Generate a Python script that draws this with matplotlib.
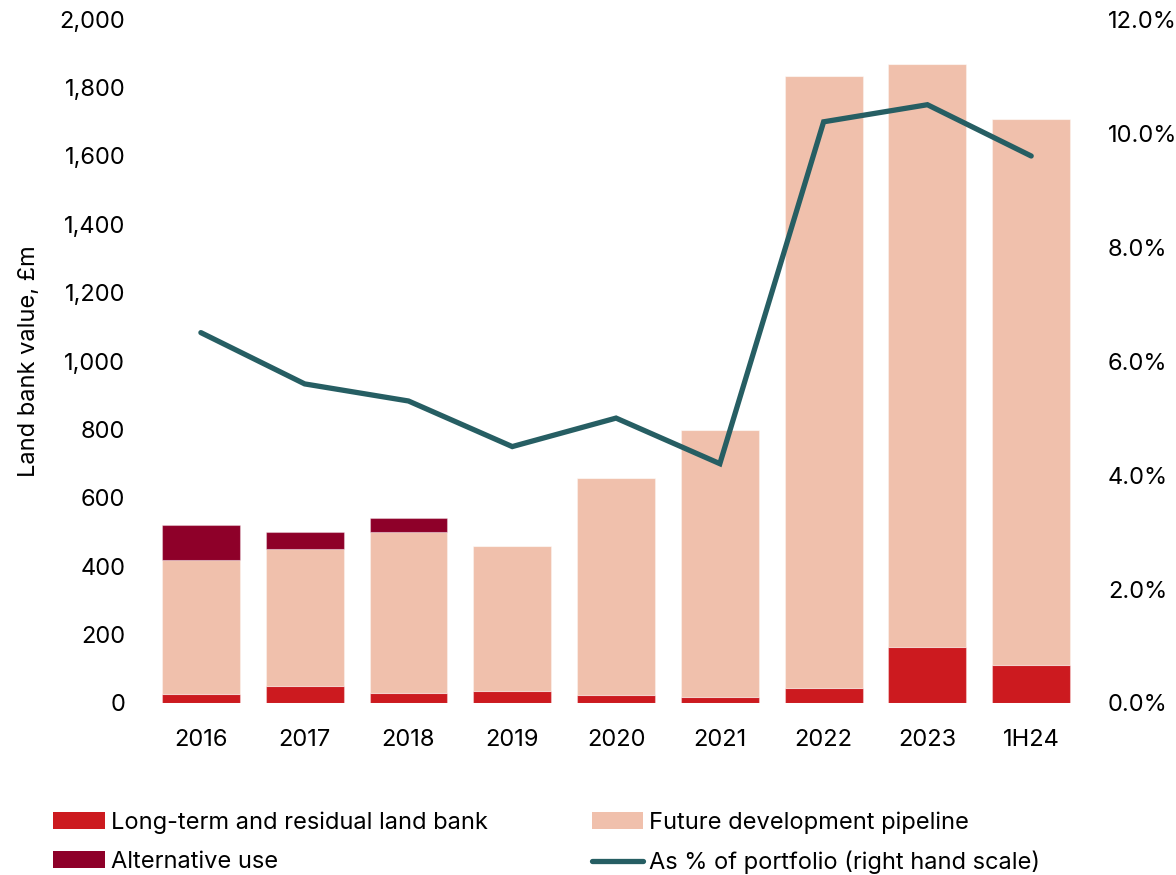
import matplotlib
matplotlib.use("Agg")
import matplotlib.pyplot as plt
from matplotlib.ticker import FuncFormatter, MultipleLocator
from matplotlib.lines import Line2D
from matplotlib.patches import Patch

# Land bank composition, £m
periods = ["2016", "2017", "2018", "2019", "2020", "2021", "2022", "2023", "1H24"]
long_term_residual = [26, 50, 29, 36, 23, 18, 44, 165, 111]
future_pipeline = [392, 401, 470, 424, 635, 780, 1789, 1703, 1597]
alternative_use = [102, 48, 43, 0, 0, 0, 0, 0, 0]
# Land bank as share of portfolio, %
pct_of_portfolio = [6.5, 5.6, 5.3, 4.5, 5.0, 4.2, 10.2, 10.5, 9.6]

c_red = "#CC1A1F"
c_pipe = "#F0C0AC"
c_alt = "#8E0029"
c_line = "#265E63"

plt.rcParams["font.family"] = ["Inter", "DejaVu Sans"]
plt.rcParams["font.size"] = 17

fig = plt.figure(figsize=(11.76, 8.75), dpi=100)
ax = fig.add_axes([0.1267, 0.1966, 0.921 - 0.1267, 0.978 - 0.1966])

x = list(range(len(periods)))
w = 0.75
edge = dict(edgecolor=(1, 1, 1, 0.35), linewidth=0.8)
ax.bar(x, long_term_residual, w, color=c_red, **edge)
ax.bar(x, future_pipeline, w, bottom=long_term_residual, color=c_pipe, **edge)
bottom2 = [a + b for a, b in zip(long_term_residual, future_pipeline)]
ax.bar(x, alternative_use, w, bottom=bottom2, color=c_alt, **edge)

ax.set_xlim(-0.5, len(periods) - 0.5)
ax.set_ylim(0, 2000)
ax.yaxis.set_major_locator(MultipleLocator(200))
ax.yaxis.set_major_formatter(FuncFormatter(lambda v, p: f"{v:,.0f}"))
ax.set_xticks(x)
ax.set_xticklabels(periods)
ax.tick_params(axis="x", length=0, pad=19)
ax.tick_params(axis="y", length=0, pad=17)
for s in ax.spines.values():
    s.set_visible(False)
ax.set_ylabel("Land bank value, £m", labelpad=14)

ax2 = ax.twinx()
ax2.plot(x, pct_of_portfolio, color=c_line, linewidth=3.8, solid_capstyle="round",
         solid_joinstyle="miter")
ax2.set_ylim(0, 12)
ax2.yaxis.set_major_locator(MultipleLocator(2))
ax2.yaxis.set_major_formatter(FuncFormatter(lambda v, p: f"{v:.1f}%"))
ax2.tick_params(axis="y", length=0, pad=18)
for s in ax2.spines.values():
    s.set_visible(False)

handles = [
    Patch(facecolor=c_red, label="Long-term and residual land bank"),
    Patch(facecolor=c_alt, label="Alternative use"),
    Patch(facecolor=c_pipe, label="Future development pipeline"),
    Line2D([0], [0], color=c_line, linewidth=3.8, solid_capstyle="round",
           label="As % of portfolio (right hand scale)"),
]
fig.legend(handles=handles, ncol=2, loc="upper left", bbox_to_anchor=(0.045, 0.073),
           frameon=False, handlelength=2.2, handleheight=0.72, handletextpad=0.25,
           columnspacing=4.4, labelspacing=0.73, borderaxespad=0, borderpad=0)

fig.savefig("out.png", dpi=100)
